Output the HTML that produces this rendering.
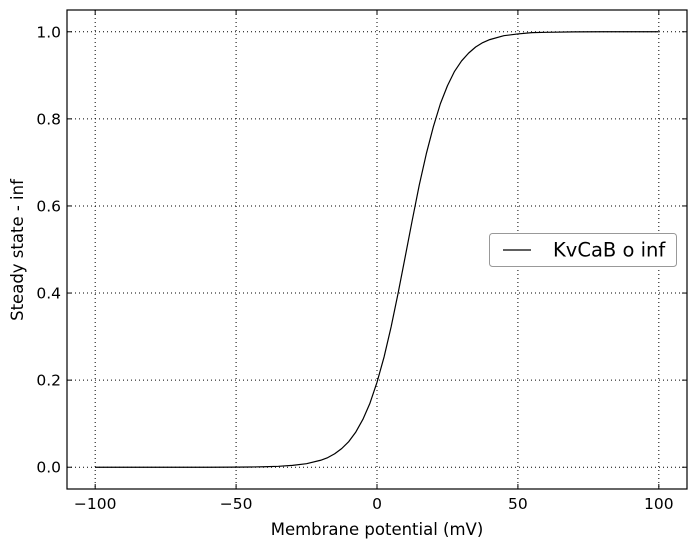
<!DOCTYPE html>
<html><head><meta charset="utf-8"><style>
body{margin:0;background:#fff;}
svg{font-family:"DejaVu Sans","Liberation Sans",sans-serif;}
</style></head><body>
<svg id="chart" width="696" height="548" xmlns="http://www.w3.org/2000/svg"></svg>
<script>
const xTicks=[-100,-50,0,50,100];
const xTickLabels=["\u2212100","\u221250","0","50","100"];
const yTicks=[0,0.2,0.4,0.6,0.8,1.0];
const yTickLabels=["0.0","0.2","0.4","0.6","0.8","1.0"];
const voltages=[-100,-90,-80,-70,-60,-50,-45,-40,-35,-30,-25,-20,-17.5,-15,-12.5,-10,-7.5,-5,-2.5,0,2.5,5,7.5,10,12.5,15,17.5,20,22.5,25,27.5,30,32.5,35,37.5,40,45,50,55,60,70,80,90,100];
const oInf=[0,0,0,0,0,0.0002,0.0005,0.0011,0.0021,0.0042,0.0082,0.016,0.022,0.031,0.043,0.059,0.081,0.110,0.147,0.195,0.253,0.322,0.40,0.483,0.567,0.648,0.72,0.782,0.835,0.876,0.909,0.933,0.951,0.965,0.975,0.982,0.991,0.995,0.998,0.9988,0.9997,1,1,1];
const seriesName="KvCaB o inf";

const L=67,R=687,T=10,B=489;
const xMin=-110,xMax=110,yMin=-0.05,yMax=1.05;
const sx=v=>L+(v-xMin)/(xMax-xMin)*(R-L);
const sy=v=>B-(v-yMin)/(yMax-yMin)*(B-T);
const svg=document.getElementById('chart');
const NS="http://www.w3.org/2000/svg";
function mk(tag,attrs,parent){const e=document.createElementNS(NS,tag);for(const k in attrs)e.setAttribute(k,attrs[k]);(parent||svg).appendChild(e);return e;}

xTicks.forEach((t,i)=>{
  const x=sx(t);
  const g=mk('line',{x1:x,x2:x,y1:T,y2:B,stroke:'#000','stroke-dasharray':'1,3','stroke-width':1});
  
  
  mk('line',{x1:x,x2:x,y1:B,y2:B-5,stroke:'#000'});
  mk('line',{x1:x,x2:x,y1:T,y2:T+5,stroke:'#000'});
  const tx=mk('text',{x:x,y:B+20,'text-anchor':'middle','font-size':15.5});
  tx.textContent=xTickLabels[i];
  
  
});
yTicks.forEach((t,i)=>{
  const y=sy(t);
  const g=mk('line',{x1:L,x2:R,y1:y,y2:y,stroke:'#000','stroke-dasharray':'1,3','stroke-width':1});
  
  
  mk('line',{x1:L,x2:L+5,y1:y,y2:y,stroke:'#000'});
  mk('line',{x1:R,x2:R-5,y1:y,y2:y,stroke:'#000'});
  const tx=mk('text',{x:L-6,y:y+5.5,'text-anchor':'end','font-size':15.5});
  tx.textContent=yTickLabels[i];
  
  
});

let d=voltages.map((v,i)=>(i?'L':'M')+sx(v).toFixed(2)+','+sy(oInf[i]).toFixed(2)).join(' ');
const line=mk('path',{d:d,fill:'none',stroke:'#000','stroke-width':1.2,'stroke-linejoin':'round'});



const frame=mk('rect',{x:L,y:T,width:R-L,height:B-T,fill:'none',stroke:'#000','stroke-width':1.2});



const xl=mk('text',{x:(L+R)/2,y:535,'text-anchor':'middle','font-size':16.5});
xl.textContent='Membrane potential (mV)';


const yl=mk('text',{x:0,y:0,'text-anchor':'middle','font-size':16.5,transform:'translate(23,250) rotate(-90)'});
yl.textContent='Steady state - inf';



const lg=mk('g',{});


mk('rect',{x:489.5,y:233.5,width:187,height:33,rx:3,fill:'#fff',stroke:'#999'},lg);
mk('line',{x1:503,x2:531,y1:250,y2:250,stroke:'#000','stroke-width':1.2},lg);
const lt=mk('text',{x:553,y:256.5,'font-size':19.5},lg);
lt.textContent=seriesName;


</script>
</body></html>
